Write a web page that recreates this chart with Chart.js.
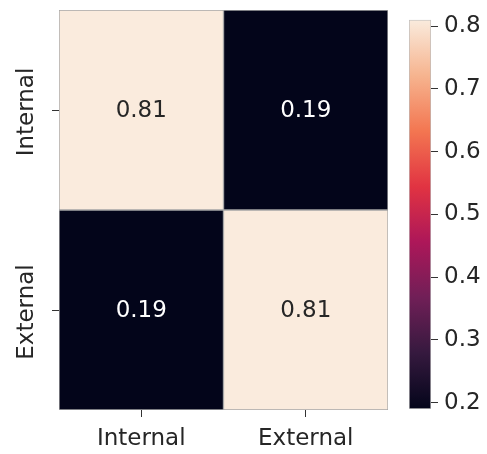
<!DOCTYPE html>
<html lang="en">
<head>
  <meta charset="UTF-8">
  <title>Confusion matrix</title>
  <script src="https://cdn.jsdelivr.net/npm/chart.js"></script>
  <style>
    body { margin: 0; background: #ffffff; }
    #wrap { position: relative; width: 487px; height: 454px; }
    #heat { position: absolute; left: 0; top: 0; }
    #cbar { position: absolute; left: 395px; top: 0; }
  </style>
</head>
<body>
  <div id="wrap">
    <canvas id="heat" width="395" height="454"></canvas>
    <canvas id="cbar" width="92" height="454"></canvas>
  </div>

  <script>
    // data
    const classes = ['Internal', 'External'];
    const rowInternal = [0.81, 0.19];
    const rowExternal = [0.19, 0.81];
    const cbTicks = [0.2, 0.3, 0.4, 0.5, 0.6, 0.7, 0.8];
    const vmin = 0.19, vmax = 0.81;

    const FONT = "'DejaVu Sans', sans-serif";
    const TEXT = '#262626';
    const SIZE = 23;

    // seaborn "rocket" colormap, sampled
    const rocket = [
      [0.000, [3, 5, 26]],
      [0.143, [53, 25, 62]],
      [0.286, [112, 31, 87]],
      [0.429, [173, 23, 89]],
      [0.571, [225, 51, 66]],
      [0.714, [243, 118, 81]],
      [0.857, [246, 180, 143]],
      [1.000, [250, 235, 221]]
    ];

    function rocketColor(t) {
      t = Math.max(0, Math.min(1, t));
      for (let i = 1; i < rocket.length; i++) {
        if (t <= rocket[i][0]) {
          const [t0, c0] = rocket[i - 1];
          const [t1, c1] = rocket[i];
          const f = (t - t0) / (t1 - t0);
          const c = c0.map((v, k) => Math.round(v + (c1[k] - v) * f));
          return `rgb(${c[0]},${c[1]},${c[2]})`;
        }
      }
      return 'rgb(250,235,221)';
    }

    const norm = v => (v - vmin) / (vmax - vmin);

    function rowDataset(values, row) {
      return {
        data: classes.map((c, i) => ({ x: c, y: [row, row + 1], v: values[i] })),
        backgroundColor: values.map(v => rocketColor(norm(v))),
        borderColor: 'rgba(150,150,150,0.85)',
        borderWidth: 1,
        borderSkipped: false,
        grouped: false,
        barPercentage: 1,
        categoryPercentage: 1
      };
    }

    // cell annotations + rotated row labels
    const annotate = {
      id: 'annotate',
      afterDatasetsDraw(chart) {
        const ctx = chart.ctx;
        ctx.save();
        ctx.font = `${SIZE}px ${FONT}`;
        ctx.textAlign = 'center';
        ctx.textBaseline = 'middle';
        chart.data.datasets.forEach((ds, di) => {
          chart.getDatasetMeta(di).data.forEach((el, i) => {
            const v = ds.data[i].v;
            ctx.fillStyle = norm(v) > 0.5 ? TEXT : '#ffffff';
            ctx.fillText(v.toFixed(2), el.x, (el.y + el.base) / 2 + 1);
          });
        });
        const y = chart.scales.y;
        ctx.fillStyle = TEXT;
        classes.forEach((c, i) => {
          ctx.save();
          ctx.translate(y.right - 32, y.getPixelForValue(i + 0.5) + 2);
          ctx.rotate(-Math.PI / 2);
          ctx.fillText(c, 0, 0);
          ctx.restore();
        });
        ctx.restore();
      }
    };

    new Chart(document.getElementById('heat'), {
      type: 'bar',
      data: {
        labels: classes,
        datasets: [rowDataset(rowInternal, 0), rowDataset(rowExternal, 1)]
      },
      options: {
        responsive: false,
        animation: false,
        layout: { padding: { top: 10, right: 7, left: 0, bottom: 0 } },
        plugins: { legend: { display: false }, tooltip: { enabled: false } },
        scales: {
          x: {
            type: 'category',
            grid: { drawOnChartArea: false, tickLength: 7, color: '#333333', offset: false },
            border: { display: false },
            ticks: { color: TEXT, font: { family: FONT, size: SIZE }, padding: 8 },
            afterFit(s) { s.height = 44; }
          },
          y: {
            type: 'linear',
            min: 0,
            max: 2,
            reverse: true,
            afterBuildTicks(s) { s.ticks = classes.map((c, i) => ({ value: i + 0.5 })); },
            grid: { drawOnChartArea: false, tickLength: 7, color: '#333333' },
            border: { display: false },
            ticks: { callback: () => '', padding: 0 },
            afterFit(s) { s.width = 59; }
          }
        }
      },
      plugins: [annotate]
    });

    // colour bar
    function barGradient(context) {
      const chart = context.chart;
      const area = chart.chartArea;
      if (!area) return 'rgb(250,235,221)';
      const g = chart.ctx.createLinearGradient(0, area.bottom, 0, area.top);
      rocket.forEach(([t, c]) => g.addColorStop(t, `rgb(${c[0]},${c[1]},${c[2]})`));
      return g;
    }

    new Chart(document.getElementById('cbar'), {
      type: 'bar',
      data: {
        labels: [''],
        datasets: [{
          data: [[vmin, vmax]],
          backgroundColor: barGradient,
          borderColor: 'rgba(170,170,170,0.8)',
          borderWidth: 1,
          borderSkipped: false,
          barPercentage: 1,
          categoryPercentage: 1
        }]
      },
      options: {
        responsive: false,
        animation: false,
        layout: { padding: { top: 11, left: 14, right: 0, bottom: 45 } },
        plugins: { legend: { display: false }, tooltip: { enabled: false } },
        scales: {
          x: { display: false },
          y: {
            position: 'right',
            min: vmin,
            max: vmax,
            afterBuildTicks(s) { s.ticks = cbTicks.map(v => ({ value: v })); },
            grid: { drawOnChartArea: false, tickLength: 7, color: '#333333' },
            border: { display: false },
            ticks: {
              color: TEXT,
              font: { family: FONT, size: SIZE },
              padding: 6,
              callback: v => v.toFixed(1)
            },
            afterFit(s) { s.width = 56; }
          }
        }
      }
    });
  </script>
</body>
</html>
